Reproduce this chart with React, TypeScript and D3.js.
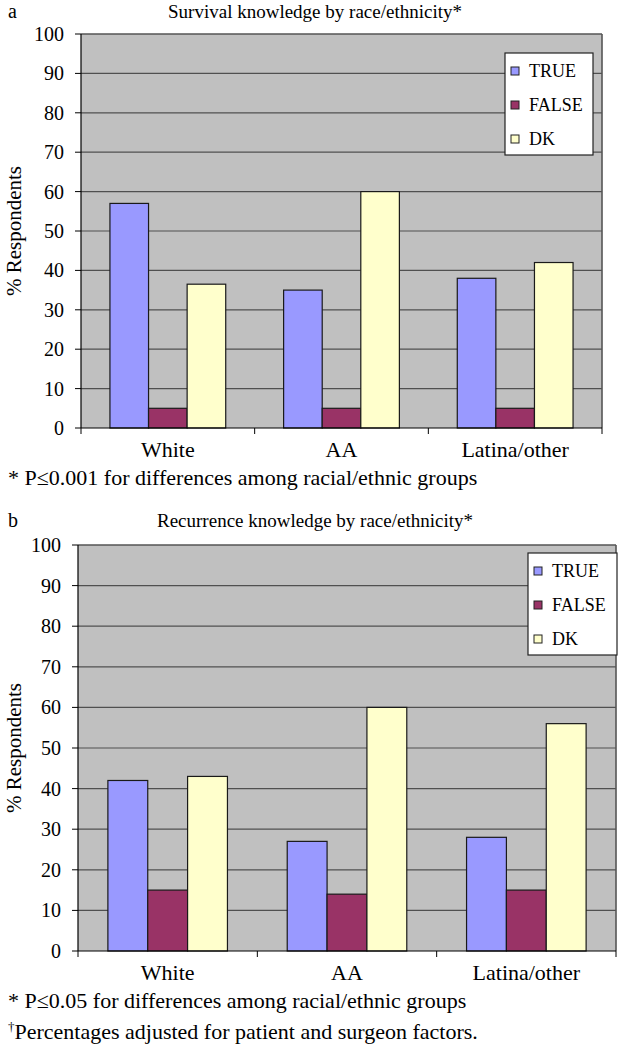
import React from "react";
import * as d3 from "d3";

const categories = ["White", "AA", "Latina/other"];
const seriesNames = ["TRUE", "FALSE", "DK"];
const colors = ["#9999FF", "#993366", "#FFFFCC"];
const survivalTrue = [57, 35, 38];
const survivalFalse = [5, 5, 5];
const survivalDK = [36.5, 60, 42];
const recurrenceTrue = [42, 27, 28];
const recurrenceFalse = [15, 14, 15];
const recurrenceDK = [43, 60, 56];
const yTicks = [0, 10, 20, 30, 40, 50, 60, 70, 80, 90, 100];

const FONT = "'Liberation Serif', 'Times New Roman', serif";

type PanelProps = {
  letter: string;
  title: string;
  titleY: number;
  values: number[][];
  left: number;
  right: number;
  top: number;
  bottom: number;
  legend: { x: number; y: number; w: number; h: number };
  notes: { text: string; y: number; dagger?: boolean }[];
};

function Panel({ letter, title, titleY, values, left, right, top, bottom, legend, notes }: PanelProps) {
  const x = d3.scaleBand<string>().domain(categories).range([left, right]).padding(0);
  const y = d3.scaleLinear().domain([0, 100]).range([bottom, top]);
  const bw = x.bandwidth();
  const groupW = (bw * 2) / 3;
  const inner = d3.scaleBand<string>().domain(seriesNames).range([0, groupW]).padding(0);
  const midY = (top + bottom) / 2;
  return (
    <g>
      <text x={8} y={titleY} fontSize={20}>{letter}</text>
      <text x={315} y={titleY} fontSize={19} textAnchor="middle">{title}</text>
      <rect x={left} y={top} width={right - left} height={bottom - top} fill="#C0C0C0" />
      {yTicks.map((t) => (
        <g key={t}>
          {t > 0 && t < 100 && (
            <line x1={left} x2={right} y1={y(t)} y2={y(t)} stroke="#505050" strokeWidth={1.2} />
          )}
          <line x1={left - 6} x2={left} y1={y(t)} y2={y(t)} stroke="#000" strokeWidth={1} />
          <text x={left - 17} y={y(t)} dy="0.35em" fontSize={20} textAnchor="end">{t}</text>
        </g>
      ))}
      <line x1={left} x2={right} y1={top} y2={top} stroke="#555" strokeWidth={1.6} />
      <line x1={right} x2={right} y1={top} y2={bottom} stroke="#555" strokeWidth={1.6} />
      {categories.map((c, ci) =>
        seriesNames.map((s, si) => {
          const v = values[si][ci];
          const bx = (x(c) as number) + (bw - groupW) / 2 + (inner(s) as number);
          return (
            <rect key={c + s} x={bx} y={y(v)} width={inner.bandwidth()} height={y(0) - y(v)} fill={colors[si]} stroke="#1a1a1a" strokeWidth={1.2} />
          );
        })
      )}
      <line x1={left} x2={left} y1={top} y2={bottom} stroke="#000" strokeWidth={1.2} />
      <line x1={left} x2={right} y1={bottom} y2={bottom} stroke="#000" strokeWidth={1.2} />
      {[0, 1, 2, 3].map((i) => {
        const tx = left + i * bw;
        return <line key={i} x1={tx} x2={tx} y1={bottom} y2={bottom + 6} stroke="#000" />;
      })}
      {categories.map((c) => (
        <text key={c} x={(x(c) as number) + bw / 2} y={bottom + 29} fontSize={22} textAnchor="middle">{c}</text>
      ))}
      <text transform={`translate(21,${midY}) rotate(-90)`} fontSize={21} textAnchor="middle">% Respondents</text>
      <rect x={legend.x} y={legend.y} width={legend.w} height={legend.h} fill="#fff" stroke="#222" strokeWidth={1.2} />
      {seriesNames.map((s, i) => {
        const ly = legend.y + 18 + i * (legend.h - 34) / 2;
        return (
          <g key={s}>
            <rect x={legend.x + 6} y={ly - 4} width={8} height={8} fill={colors[i]} stroke="#222" strokeWidth={1} />
            <text x={legend.x + 24} y={ly} dy="0.35em" fontSize={18}>{s}</text>
          </g>
        );
      })}
      {notes.map((n, i) => (
        <text key={i} x={8} y={n.y} fontSize={22}>
          {n.dagger ? <tspan fontSize={13} dy={-8}>†</tspan> : null}
          {n.dagger ? <tspan dy={8}>{n.text}</tspan> : n.text}
        </text>
      ))}
    </g>
  );
}

export default function App() {
  return (
    <svg width={629} height={1050} fontFamily={FONT} style={{ position: "absolute", left: 0, top: 0, background: "#fff" }}>
      <Panel
        letter="a"
        title="Survival knowledge by race/ethnicity*"
        titleY={18}
        values={[survivalTrue, survivalFalse, survivalDK]}
        left={81}
        right={602}
        top={34}
        bottom={428}
        legend={{ x: 505, y: 53, w: 88, h: 102 }}
        notes={[{ text: "* P≤0.001 for differences among racial/ethnic groups", y: 485 }]}
      />
      <Panel
        letter="b"
        title="Recurrence knowledge by race/ethnicity*"
        titleY={527}
        values={[recurrenceTrue, recurrenceFalse, recurrenceDK]}
        left={78}
        right={616}
        top={545}
        bottom={951}
        legend={{ x: 528, y: 553, w: 89, h: 102 }}
        notes={[
          { text: "* P≤0.05 for differences among racial/ethnic groups", y: 1008 },
          { text: "Percentages adjusted for patient and surgeon factors.", y: 1039, dagger: true },
        ]}
      />
    </svg>
  );
}
